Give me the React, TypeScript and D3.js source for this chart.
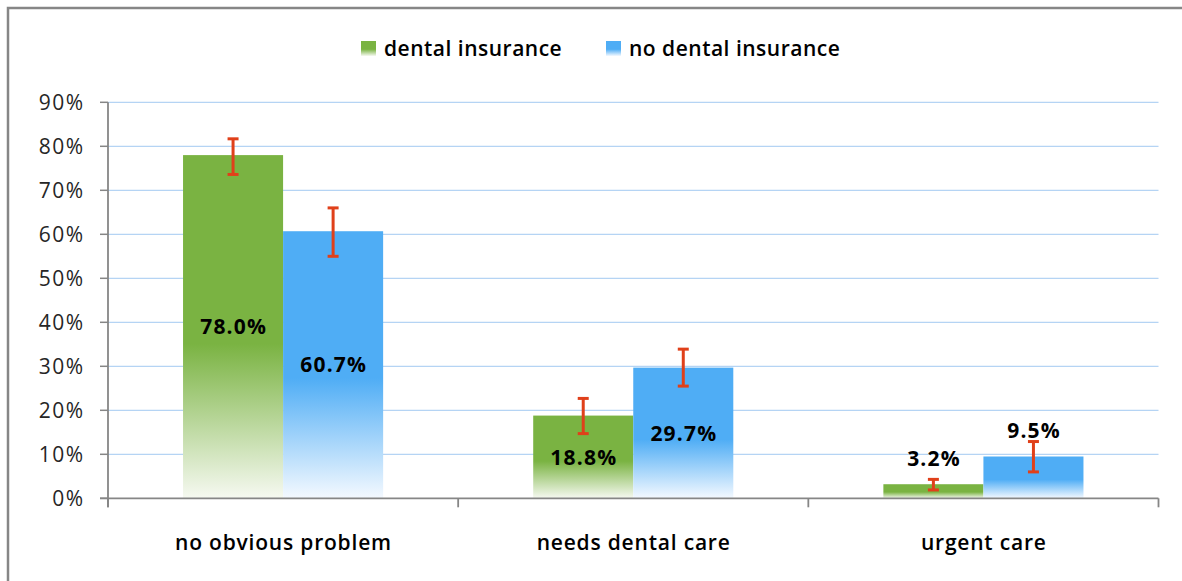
import React from "react";
import * as d3 from "d3";

const categories = ["no obvious problem", "needs dental care", "urgent care"];
const seriesNames = ["dental insurance", "no dental insurance"];
const dentalInsurance = [78.0, 18.8, 3.2];
const noDentalInsurance = [60.7, 29.7, 9.5];
const dentalLow = [73.6, 14.7, 1.9];
const dentalHigh = [81.7, 22.7, 4.3];
const noDentalLow = [55.0, 25.5, 6.0];
const noDentalHigh = [66.0, 33.9, 12.9];
const yTicks = [0, 10, 20, 30, 40, 50, 60, 70, 80, 90];

const W = 1182;
const H = 581;
const FONT = "'Open Sans', 'Liberation Sans', sans-serif";
const GRID = "#b5d4f4";
const AXIS = "#868686";
const ERR = "#e0401a";
const colors = ["#7ab342", "#4fadf5"];
const fades = ["#f6f9f1", "#f4f9ff"];

const series = [
  { name: seriesNames[0], values: dentalInsurance, low: dentalLow, high: dentalHigh },
  { name: seriesNames[1], values: noDentalInsurance, low: noDentalLow, high: noDentalHigh },
];

export default function App() {
  const left = 108;
  const right = 1158.5;
  const top = 102.3;
  const bottom = 498.3;
  const y = d3.scaleLinear().domain([0, 90]).range([bottom, top]);
  const x0 = d3.scaleBand<string>().domain(categories).range([left, right]).paddingInner(0).paddingOuter(0);
  const x1 = d3
    .scaleBand<string>()
    .domain(seriesNames)
    .range([0, x0.bandwidth()])
    .paddingInner(0)
    .paddingOuter(0.75);
  const bw = x1.bandwidth();
  const boundaries = [...categories.map((c) => x0(c) as number), right];

  return (
    <svg
      width={W}
      height={H}
      style={{ position: "absolute", left: 0, top: 0, display: "block", background: "#fff" }}
      fontFamily={FONT}
    >
      <defs>
        {series.map((s, i) => (
          <linearGradient key={i} id={`g${i}`} x1="0" y1="0" x2="0" y2="1">
            <stop offset="0" stopColor={colors[i]} />
            <stop offset="0.55" stopColor={colors[i]} />
            <stop offset="1" stopColor={fades[i]} />
          </linearGradient>
        ))}
      </defs>
      <rect x={8} y={8} width={W + 20} height={H + 20} fill="#fff" stroke={AXIS} strokeWidth={2.5} />

      {/* legend */}
      {series.map((s, i) => {
        const lx = i === 0 ? 361 : 606;
        return (
          <g key={i}>
            <rect x={lx} y={41} width={15} height={15} fill={`url(#g${i})`} />
            <text x={lx + 23} y={56} fontSize={21} fontWeight={600} letterSpacing={0.5} fill="#000">
              {s.name}
            </text>
          </g>
        );
      })}

      {/* gridlines */}
      {yTicks.filter((t) => t > 0).map((t) => (
        <line key={t} x1={left} x2={right} y1={y(t)} y2={y(t)} stroke={GRID} strokeWidth={1.2} />
      ))}

      {/* y ticks + labels */}
      {yTicks.map((t) => (
        <g key={t}>
          <line x1={left - 8} x2={left} y1={y(t)} y2={y(t)} stroke={AXIS} strokeWidth={1.5} />
          <text x={84.5} y={y(t)} dy="0.36em" textAnchor="end" fontSize={21} letterSpacing={1.5} fill="#262626">
            {`${t}%`}
          </text>
        </g>
      ))}

      {/* bars */}
      {categories.map((c, ci) => (
        <g key={c}>
          {series.map((s, si) => {
            const bx = (x0(c) as number) + (x1(s.name) as number);
            const v = s.values[ci];
            return (
              <rect key={si} x={bx} y={y(v)} width={bw} height={bottom - y(v)} fill={`url(#g${si})`} />
            );
          })}
        </g>
      ))}

      {/* axes */}
      <line x1={left} x2={left} y1={top} y2={bottom + 9} stroke={AXIS} strokeWidth={1.8} />
      <line x1={left - 8} x2={right} y1={bottom} y2={bottom} stroke={AXIS} strokeWidth={1.8} />
      {boundaries.map((b, i) => (
        <line key={i} x1={b} x2={b} y1={bottom} y2={bottom + 9} stroke={AXIS} strokeWidth={1.8} />
      ))}

      {/* error bars */}
      {categories.map((c, ci) => (
        <g key={c}>
          {series.map((s, si) => {
            const cx = (x0(c) as number) + (x1(s.name) as number) + bw / 2;
            const yl = y(s.low[ci]);
            const yh = y(s.high[ci]);
            return (
              <g key={si} stroke={ERR} strokeWidth={3}>
                <line x1={cx} x2={cx} y1={yh} y2={yl} />
                <line x1={cx - 5.5} x2={cx + 5.5} y1={yh} y2={yh} />
                <line x1={cx - 5.5} x2={cx + 5.5} y1={yl} y2={yl} />
              </g>
            );
          })}
        </g>
      ))}

      {/* value labels */}
      {categories.map((c, ci) => (
        <g key={c}>
          {series.map((s, si) => {
            const cx = (x0(c) as number) + (x1(s.name) as number) + bw / 2;
            const v = s.values[ci];
            const h = bottom - y(v);
            const ly = h < 50 ? y(v) - 26 : (y(v) + bottom) / 2;
            return (
              <text
                key={si}
                x={cx + 0.6}
                y={ly}
                dy="0.36em"
                textAnchor="middle"
                fontSize={21}
                fontWeight={700}
                letterSpacing={1.2}
                fill="#000"
              >
                {`${v.toFixed(1)}%`}
              </text>
            );
          })}
        </g>
      ))}

      {/* category labels */}
      {categories.map((c) => (
        <text
          key={c}
          x={(x0(c) as number) + x0.bandwidth() / 2 + 0.4}
          y={550}
          textAnchor="middle"
          fontSize={21}
          fontWeight={600}
          letterSpacing={0.8}
          fill="#000"
        >
          {c}
        </text>
      ))}
    </svg>
  );
}
